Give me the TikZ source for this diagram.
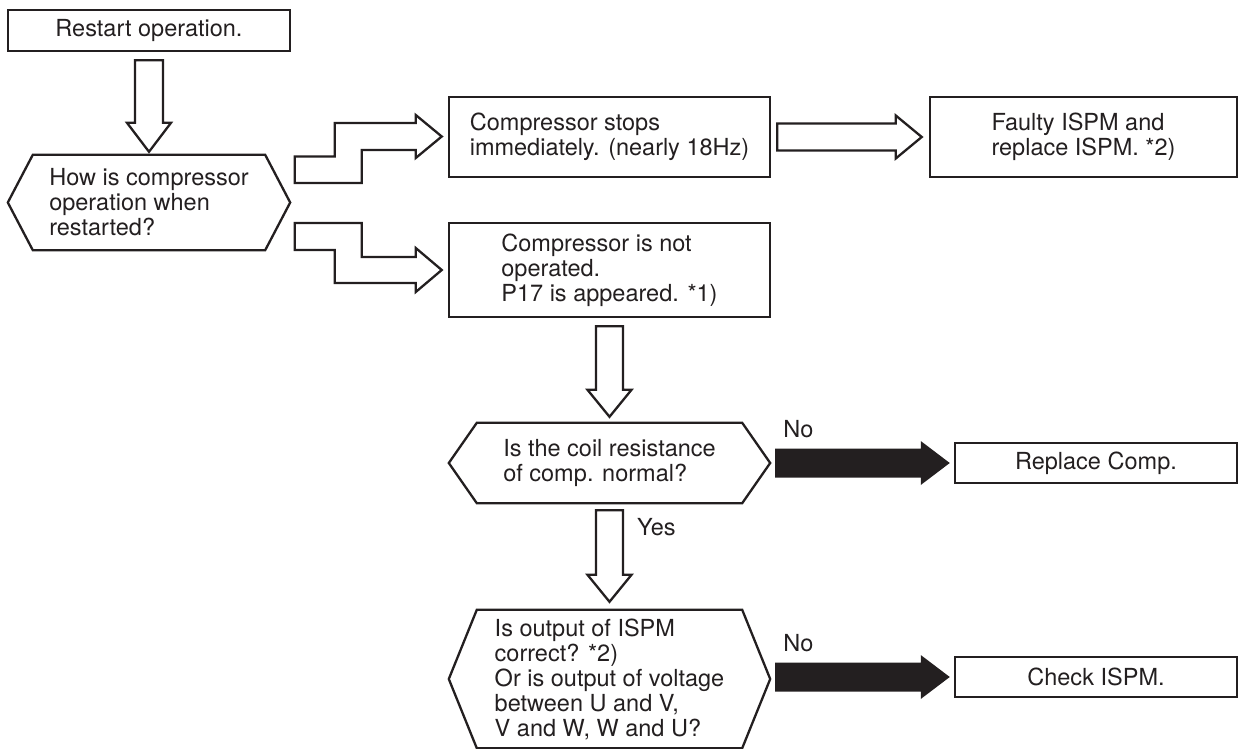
\documentclass[tikz,border=0pt]{standalone}
\usepackage{fontspec}
\setmainfont{TeX Gyre Heros}
\usetikzlibrary{calc}
\definecolor{ink}{RGB}{35,31,32}
\begin{document}
\begin{tikzpicture}[x=1pt,y=-1pt,
  every node/.style={font=\fontsize{23.5}{25}\selectfont, text=ink, inner sep=0pt},
  boxnode/.style={draw=ink, line width=2.5pt, rectangle, align=left},
  hexnode/.style={rectangle, align=left},
  hexline/.style={draw=ink, line width=2.3pt, line join=miter},
  hollow/.style={draw=ink, line width=2.3pt, fill=white, line join=miter},
  blackarrow/.style={fill=ink, draw=none},
  lbl/.style={anchor=west}]
\useasboundingbox (0,0) rectangle (1240,749);

% nodes
\node[boxnode, minimum width=282pt, minimum height=41pt, align=center] (r) at (149,30.5) {Restart operation.};
\node[hexnode, minimum width=282pt, minimum height=95pt] (h1) at (149,202.5) {How is compressor\\operation when\\restarted?};
\node[boxnode, minimum width=321pt, minimum height=80pt] (A) at (609.5,137) {Compressor stops\\immediately. (nearly 18Hz)};
\node[boxnode, minimum width=321pt, minimum height=94pt] (B) at (609.5,270) {Compressor is not\\operated.\\P17 is appeared. *1)};
\node[boxnode, minimum width=307pt, minimum height=80pt] (C) at (1083.5,137) {Faulty ISPM and\\replace ISPM. *2)};
\node[hexnode, minimum width=321pt, minimum height=80pt] (h2) at (609.5,463) {Is the coil resistance\\of comp. normal?};
\node[hexnode, minimum width=321pt, minimum height=138pt] (h3) at (609.5,679) {Is output of ISPM\\correct? *2)\\Or is output of voltage\\between U and V,\\V and W, W and U?};
\node[boxnode, minimum width=282pt, minimum height=40pt, align=center] (D) at (1096,463) {Replace Comp.};
\node[boxnode, minimum width=282pt, minimum height=40pt, align=center] (E) at (1096,677) {Check ISPM.};

% hexagon outlines
\draw[hexline] (h1.west) -- ($(h1.north west)+(25,0)$) -- ($(h1.north east)+(-25,0)$) -- (h1.east) -- ($(h1.south east)+(-25,0)$) -- ($(h1.south west)+(25,0)$) -- cycle;
\draw[hexline] (h2.west) -- ($(h2.north west)+(28,0)$) -- ($(h2.north east)+(-28,0)$) -- (h2.east) -- ($(h2.south east)+(-28,0)$) -- ($(h2.south west)+(28,0)$) -- cycle;
\draw[hexline] (h3.west) -- ($(h3.north west)+(28,0)$) -- ($(h3.north east)+(-28,0)$) -- (h3.east) -- ($(h3.south east)+(-28,0)$) -- ($(h3.south west)+(28,0)$) -- cycle;

% hollow down arrows
\coordinate (s1) at ($(r.south)+(0,8)$);
\coordinate (t1) at ($(h1.north)+(0,-3)$);
\draw[hollow] ($(s1)+(-14,0)$) -- ($(t1)+(-14,-29)$) -- ($(t1)+(-22,-29)$) -- (t1) -- ($(t1)+(22,-29)$) -- ($(t1)+(14,-29)$) -- ($(s1)+(14,0)$) -- cycle;

\coordinate (s2) at ($(B.south)+(0,8)$);
\coordinate (t2) at ($(h2.north)+(0,-6)$);
\draw[hollow] ($(s2)+(-13.5,0)$) -- ($(t2)+(-13.5,-27)$) -- ($(t2)+(-22,-27)$) -- (t2) -- ($(t2)+(22,-27)$) -- ($(t2)+(13.5,-27)$) -- ($(s2)+(13.5,0)$) -- cycle;

\coordinate (s3) at ($(h2.south)+(0,7)$);
\coordinate (t3) at ($(h3.north)+(0,-8)$);
\draw[hollow] ($(s3)+(-13.5,0)$) -- ($(t3)+(-13.5,-27)$) -- ($(t3)+(-22,-27)$) -- (t3) -- ($(t3)+(22,-27)$) -- ($(t3)+(13.5,-27)$) -- ($(s3)+(13.5,0)$) -- cycle;

% hollow right arrow A -> C
\coordinate (s4) at ($(A.east)+(6,0)$);
\coordinate (t4) at ($(C.west)+(-7,0)$);
\draw[hollow] ($(s4)+(0,-13.5)$) -- ($(t4)+(-26,-13.5)$) -- ($(t4)+(-26,-21.5)$) -- (t4) -- ($(t4)+(-26,21.5)$) -- ($(t4)+(-26,13.5)$) -- ($(s4)+(0,13.5)$) -- cycle;

% stepped arrows h1 -> A, h1 -> B
\coordinate (tA) at ($(A.west)+(-6,-0.5)$);
\draw[hollow] ($(tA)+(-147,20)$) -- ($(tA)+(-107,20)$) -- ($(tA)+(-107,-13.5)$) -- ($(tA)+(-26,-13.5)$) -- ($(tA)+(-26,-21.5)$) -- (tA) -- ($(tA)+(-26,21.5)$) -- ($(tA)+(-26,13.5)$) -- ($(tA)+(-80,13.5)$) -- ($(tA)+(-80,46.5)$) -- ($(tA)+(-147,46.5)$) -- cycle;

\coordinate (tB) at ($(B.west)+(-6,0)$);
\draw[hollow] ($(tB)+(-147,-47)$) -- ($(tB)+(-80,-47)$) -- ($(tB)+(-80,-13)$) -- ($(tB)+(-26,-13)$) -- ($(tB)+(-26,-22)$) -- (tB) -- ($(tB)+(-26,22)$) -- ($(tB)+(-26,13)$) -- ($(tB)+(-107,13)$) -- ($(tB)+(-107,-20)$) -- ($(tB)+(-147,-20)$) -- cycle;

% black arrows
\coordinate (s5) at ($(h2.east)+(5,0)$);
\coordinate (t5) at ($(D.west)+(-4,0)$);
\fill[blackarrow] ($(s5)+(0,-14.5)$) -- ($(t5)+(-29,-14.5)$) -- ($(t5)+(-29,-22)$) -- (t5) -- ($(t5)+(-29,22)$) -- ($(t5)+(-29,14.5)$) -- ($(s5)+(0,14.5)$) -- cycle;

\coordinate (s6) at ($(h3.east |- E.west)+(5,0)$);
\coordinate (t6) at ($(E.west)+(-4,0)$);
\fill[blackarrow] ($(s6)+(0,-14.5)$) -- ($(t6)+(-29,-14.5)$) -- ($(t6)+(-29,-22)$) -- (t6) -- ($(t6)+(-29,22)$) -- ($(t6)+(-29,14.5)$) -- ($(s6)+(0,14.5)$) -- cycle;

% labels
\node[lbl] (no1) at ($(h2.east)+(13,-34)$) {No};
\node[lbl] (no2) at ($(h3.east |- E.west)+(13,-34)$) {No};
\node[lbl] (yes) at ($(h2.south)+(27.5,24)$) {Yes};
\end{tikzpicture}
\end{document}
